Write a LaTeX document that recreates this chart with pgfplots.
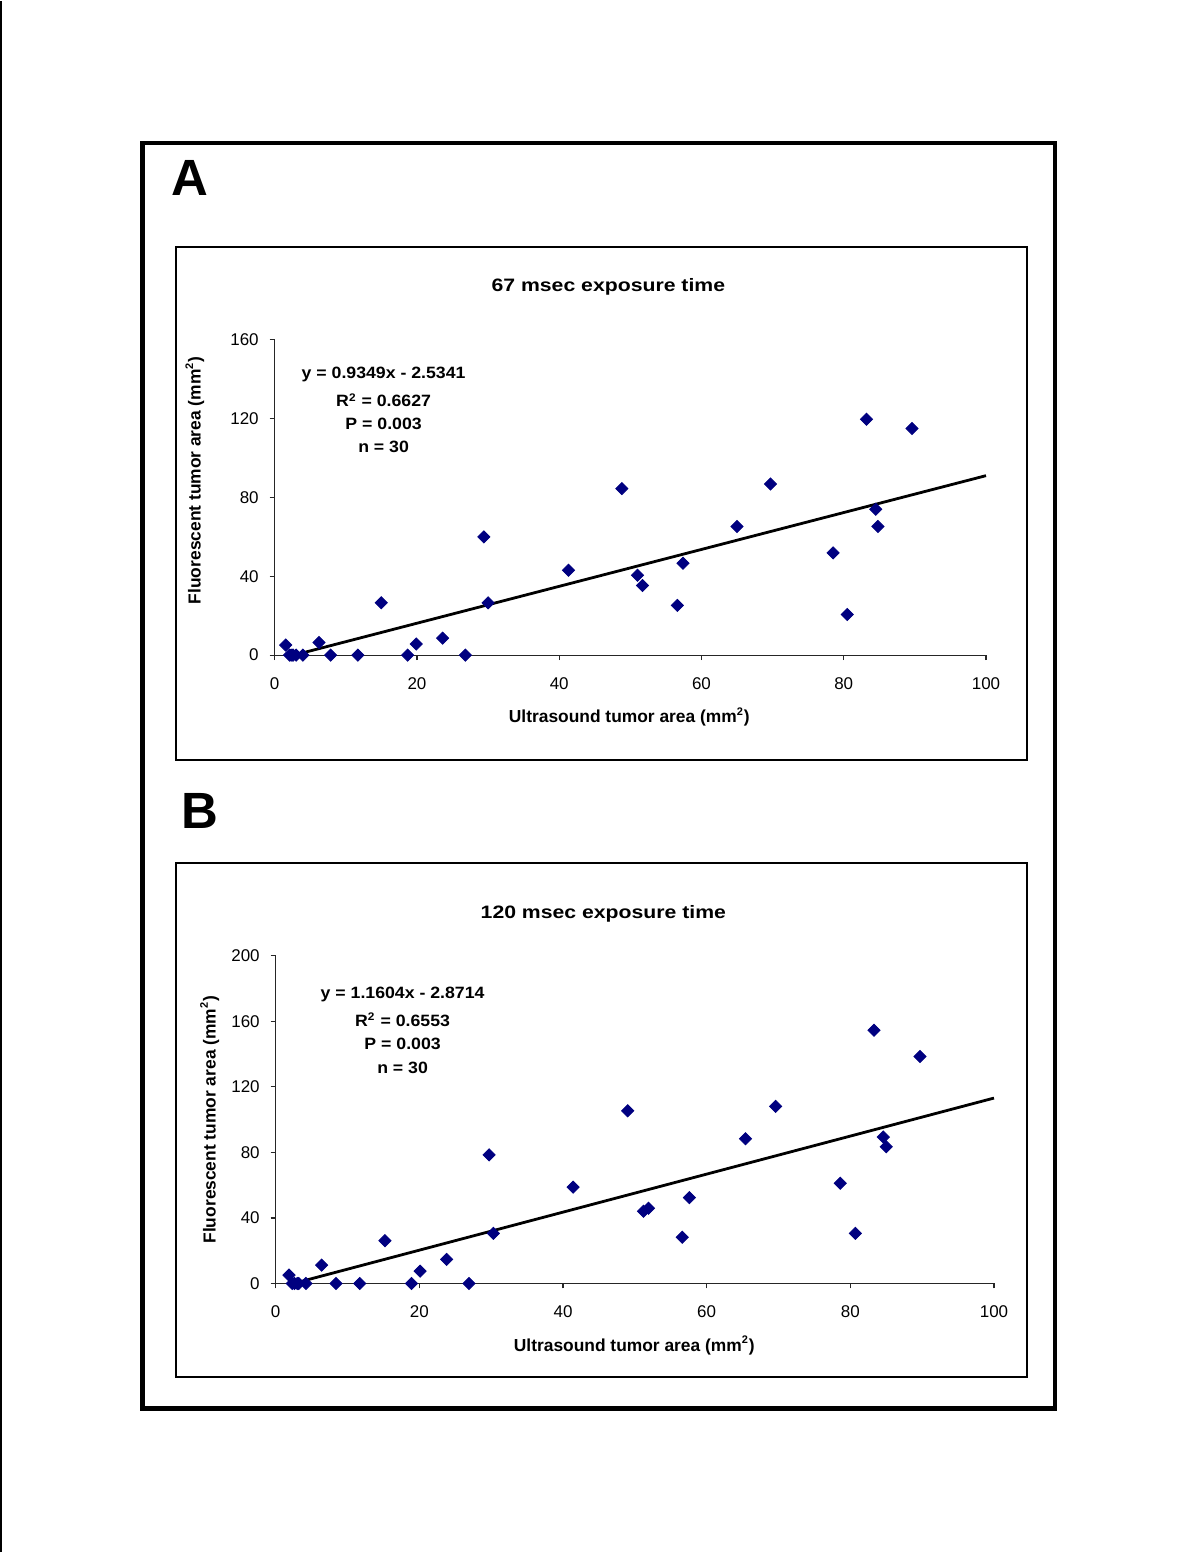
\documentclass[border=0pt]{standalone}
\usepackage{fontspec}
\setmainfont{Liberation Sans}
\usepackage{graphicx}
\usepackage{pgfplots}
\pgfplotsset{compat=1.18}
\definecolor{navy}{RGB}{0,0,128}
\pgfplotstableread{
x y
1.54 5.1
2.08 0
2.57 0
3.0 0
3.97 0
6.23 6.4
7.87 0
11.7 0
14.98 26.5
18.7 0
19.9 5.6
23.6 8.6
26.8 0
29.4 59.9
30.0 26.5
41.3 43.0
48.8 84.4
51.0 40.5
51.7 35.3
56.6 25.2
57.4 46.6
65.0 65.2
69.7 86.7
78.5 51.8
80.5 20.6
83.2 119.5
84.5 73.9
84.8 65.2
89.6 114.9
2.3 0
}\dataA
\pgfplotstableread{
x y
1.85 5.1
2.3 0
2.6 0
3.2 0
4.2 0
6.4 11.2
8.4 0
11.7 0
15.2 26.1
18.9 0
20.1 7.5
23.8 14.7
26.9 0
29.7 78.5
30.3 30.6
41.4 58.8
49.0 105.4
51.2 44.1
51.9 45.9
56.6 28.2
57.6 52.4
65.4 88.3
69.6 108.1
78.6 61.2
80.7 30.6
83.3 154.6
84.6 89.4
85.0 83.4
89.7 138.5
3.0 0
}\dataB
\pgfplotsset{myax/.style={
  scale only axis, anchor=south west,
  axis x line=bottom, axis y line=left,
  axis line style={-, line width=0.6pt, black!85},
  tick align=outside, major tick length=2.5pt,
  tick style={black!85, line width=0.6pt},
  xmin=0, xmax=100, ymin=0, xtick={0,20,...,100},
  ticklabel style={font=\fontsize{8.5}{10}\selectfont},
  /pgf/number format/assume math mode=true,
  xticklabel style={yshift=-5pt}, yticklabel style={xshift=-2pt},
  clip=false,
}}
\newcommand{\ttl}[1]{\scalebox{1.18}[1]{\fontsize{9}{10}\selectfont\bfseries #1}}
\newcommand{\eq}[1]{\scalebox{1.08}[1]{\fontsize{8.2}{10}\selectfont\bfseries #1}}
\newcommand{\lab}[1]{{\fontsize{8.7}{10}\selectfont\bfseries #1}}
\newcommand{\sq}{\textsuperscript{\fontsize{5.5}{6}\selectfont 2}}
\begin{document}
\begin{tikzpicture}
\path[fill=white] (0,0) rectangle (600pt,776.5pt);
\draw[line width=0.8pt] (0.4pt,0) -- (0.4pt,776.5pt);
\draw[line width=2.2pt] (71.25pt,72pt) rectangle (528pt,705.25pt);
\draw[line width=1pt] (88pt,396.5pt) rectangle (514pt,653.25pt);
\draw[line width=1pt] (88pt,87.5pt) rectangle (514pt,345pt);

% Panel A
\node at (95pt,688pt) {\fontsize{25.5}{28}\selectfont\bfseries A};
\node at (304.5pt,633.5pt) {\ttl{67 msec exposure time}};
\node at (192pt,589.5pt) {\eq{y = 0.9349x - 2.5341}};
\node at (192pt,576.5pt) {\eq{R\sq{} = 0.6627}};
\node at (192pt,564.5pt) {\eq{P = 0.003}};
\node at (192pt,553pt) {\eq{n = 30}};
\node at (315pt,418pt) {\lab{Ultrasound tumor area (mm\sq)}};
\node[rotate=90] at (97.5pt,536.5pt) {\lab{Fluorescent tumor area (mm\sq)}};
\begin{axis}[myax, at={(137.5pt,449pt)}, width=356pt, height=158pt,
  ymax=160, ytick={0,40,...,160}]
\addplot[only marks, mark=square*, mark size=2.15pt, color=navy,
  mark options={rotate=45, fill=navy, draw=navy}] table[x=x,y=y] {\dataA};
\addplot[black, line width=1.4pt] coordinates {(2.71,0) (100,90.96)};
\end{axis}

% Panel B
\node at (100pt,371pt) {\fontsize{25.5}{28}\selectfont\bfseries B};
\node at (302pt,319.5pt) {\ttl{120 msec exposure time}};
\node at (201.5pt,279pt) {\eq{y = 1.1604x - 2.8714}};
\node at (201.5pt,266.5pt) {\eq{R\sq{} = 0.6553}};
\node at (201.5pt,254.5pt) {\eq{P = 0.003}};
\node at (201.5pt,242.5pt) {\eq{n = 30}};
\node at (317.5pt,103.5pt) {\lab{Ultrasound tumor area (mm\sq)}};
\node[rotate=90] at (105pt,216.5pt) {\lab{Fluorescent tumor area (mm\sq)}};
\begin{axis}[myax, at={(138pt,134.5pt)}, width=359.5pt, height=164pt,
  ymax=200, ytick={0,40,...,200}]
\addplot[only marks, mark=square*, mark size=2.15pt, color=navy,
  mark options={rotate=45, fill=navy, draw=navy}] table[x=x,y=y] {\dataB};
\addplot[black, line width=1.4pt] coordinates {(2.474,0) (100,113.17)};
\end{axis}
\end{tikzpicture}
\end{document}
